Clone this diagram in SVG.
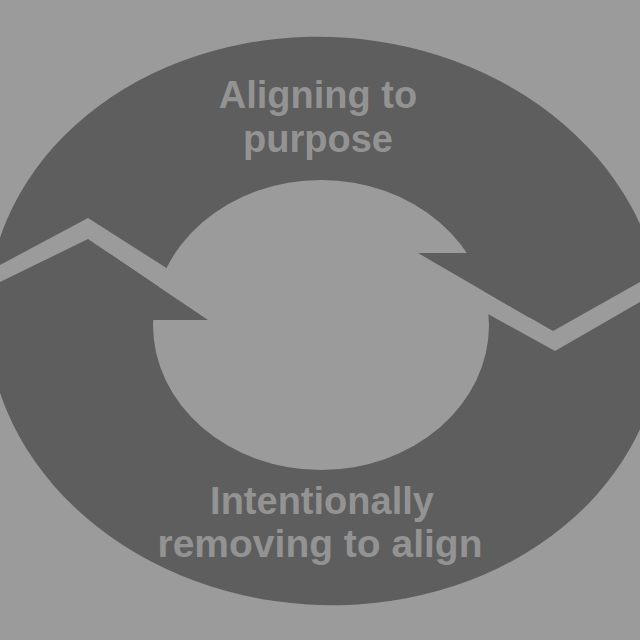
<svg xmlns="http://www.w3.org/2000/svg" width="640" height="640" viewBox="0 0 640 640">
<style>
.light{fill:#9b9b9b}
.dark{fill:#5e5e5e}
.lbl{font-family:"Liberation Sans",Arial,sans-serif;font-weight:bold;font-size:38px;fill:#939393;text-anchor:middle}
</style>
<rect class="light" x="0" y="0" width="640" height="640"/>
<g id="cycle">
<ellipse class="dark" cx="325" cy="321" rx="338" ry="284" transform="rotate(3.5 325 321)"/>
<ellipse class="light" cx="321" cy="325" rx="168" ry="145"/>
<polygon class="light" points="-10,270.3 88,218 190,283 190,308 88,239 -10,287"/>
<polygon class="light" points="650,276.4 553,331 430,260 450,293 555,351 650,296.3"/>
<polygon class="dark" points="110,254 208,320 150,320"/>
<polygon class="dark" points="530,318 418,253 475,253"/>
</g>
<g id="node-top">
<text class="lbl" x="318" y="108">Aligning to</text>
<text class="lbl" x="318" y="152">purpose</text>
</g>
<g id="node-bottom">
<text class="lbl" x="322" y="514">Intentionally</text>
<text class="lbl" x="320" y="557" style="font-size:39px">removing to align</text>
</g>
</svg>
